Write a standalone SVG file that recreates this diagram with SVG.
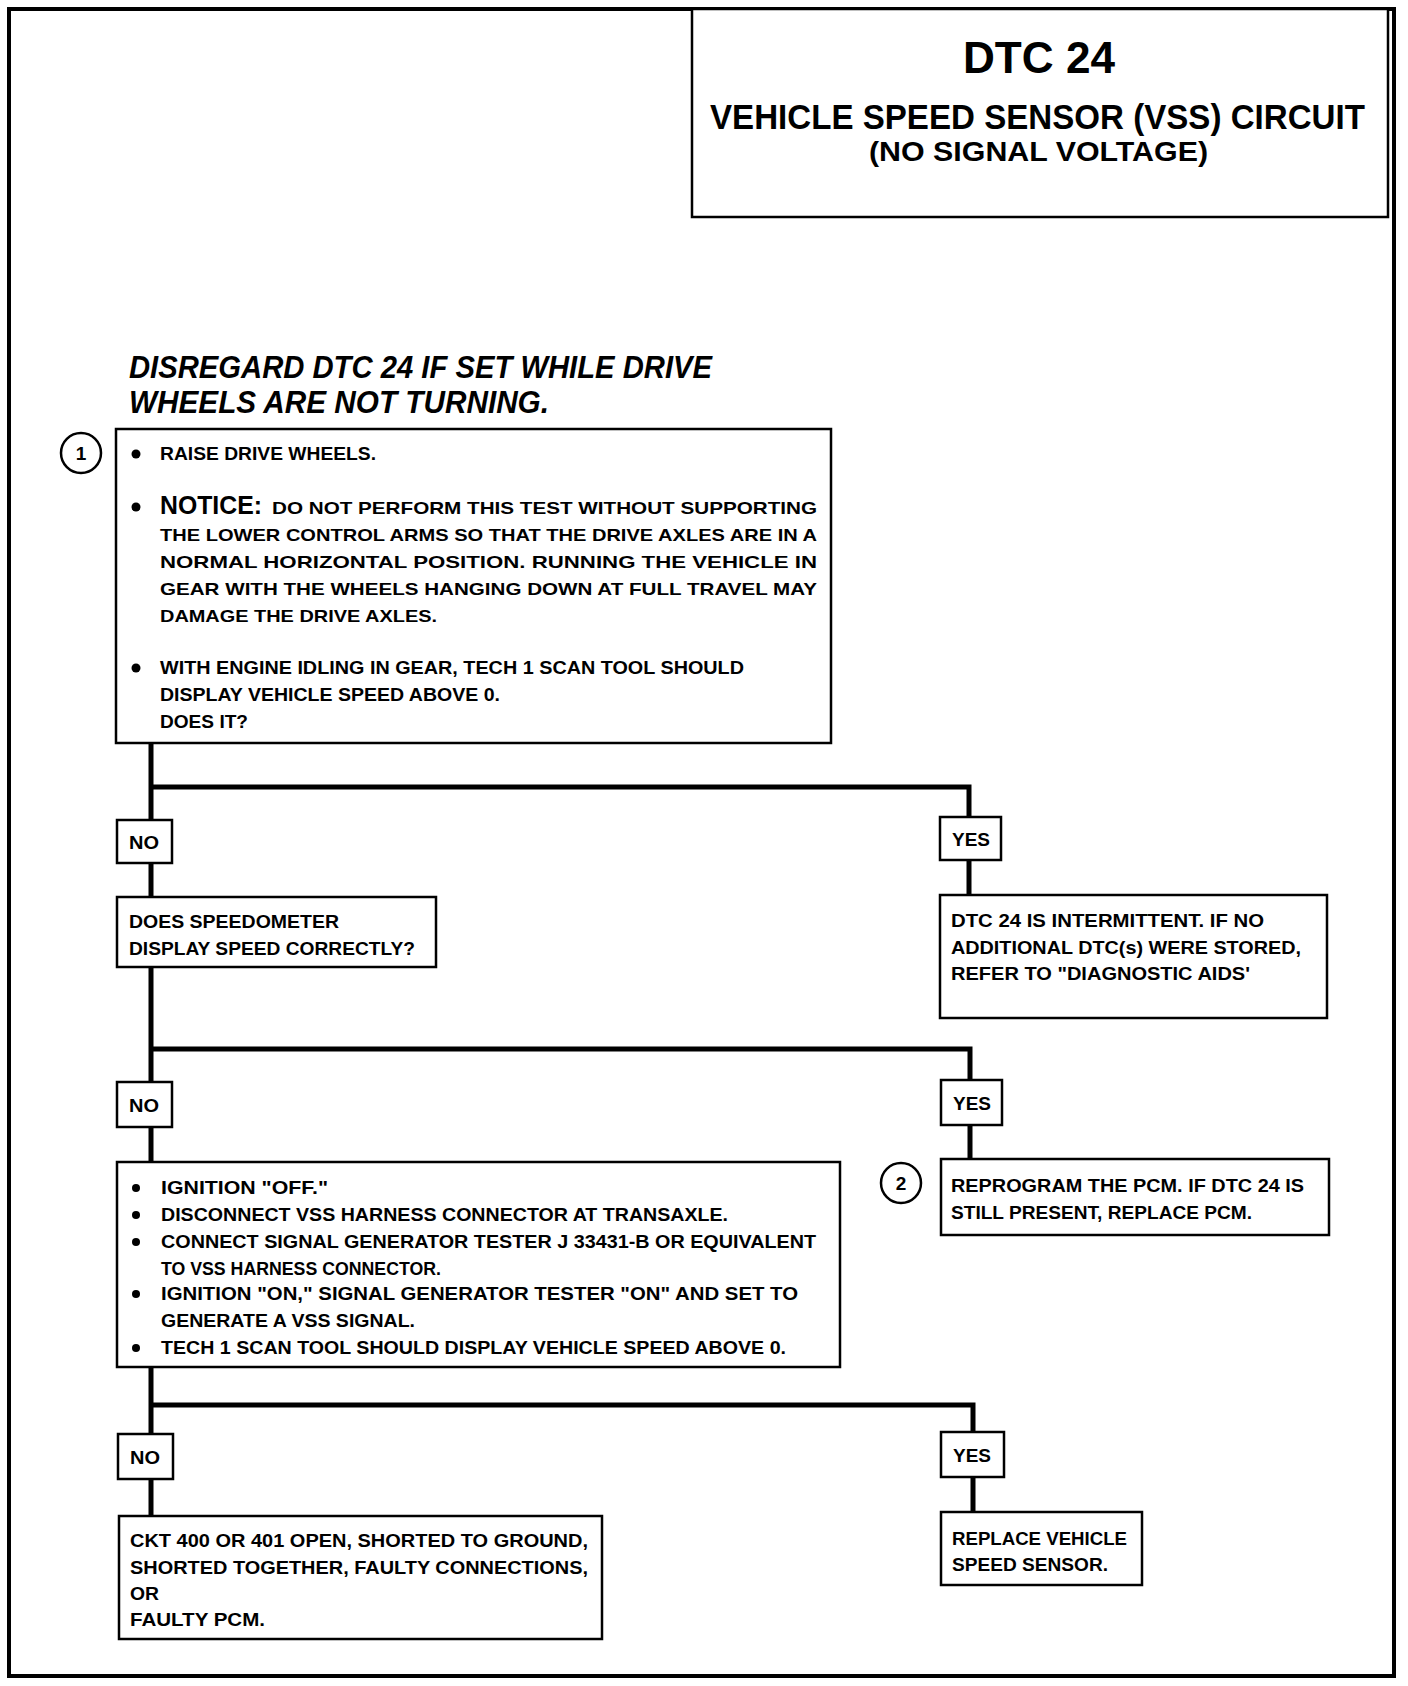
<svg xmlns="http://www.w3.org/2000/svg" width="1408" height="1686" viewBox="0 0 1408 1686">
<style>
  text { font-family: "Liberation Sans", Arial, sans-serif; font-weight: bold; fill: #000; }
  .t { font-size: 18px; }
  .n { font-size: 17px; }
  .lbl { font-size: 18px; }
  .box { fill: #fff; stroke: #000; stroke-width: 2.5; }
  .conn { fill: none; stroke: #000; stroke-width: 5; }
  .circ { fill: #fff; stroke: #000; stroke-width: 2.5; }
</style>
<rect x="0" y="0" width="1408" height="1686" fill="#fff"/>
<rect id="frame" x="9" y="9" width="1385" height="1667" fill="none" stroke="#000" stroke-width="4"/>

<g id="connectors">
  <path class="conn" d="M151 743 V1516"/>
  <path class="conn" d="M151 787 H969 V895"/>
  <path class="conn" d="M151 1049 H970 V1159"/>
  <path class="conn" d="M151 1405 H973 V1512"/>
</g>

<g id="title">
  <rect x="692" y="9" width="696" height="208" fill="#fff" stroke="#000" stroke-width="2.5"/>
  <text x="963" y="73" font-size="45" textLength="152" lengthAdjust="spacingAndGlyphs">DTC 24</text>
  <text transform="translate(710 129) scale(0.92 1)" x="0" y="0" font-size="36">VEHICLE SPEED SENSOR (VSS) CIRCUIT</text>
  <text x="869" y="161" font-size="28" textLength="339" lengthAdjust="spacingAndGlyphs">(NO SIGNAL VOLTAGE)</text>
</g>

<g id="note">
  <text x="129" y="378" font-size="31" font-style="italic" textLength="583" lengthAdjust="spacingAndGlyphs">DISREGARD DTC 24 IF SET WHILE DRIVE</text>
  <text x="129" y="413" font-size="31" font-style="italic" textLength="420" lengthAdjust="spacingAndGlyphs">WHEELS ARE NOT TURNING.</text>
</g>

<g id="step1-marker">
  <circle class="circ" cx="81" cy="453" r="20"/>
  <text x="81" y="460" font-size="19" text-anchor="middle">1</text>
</g>

<g id="box1">
  <rect class="box" x="116" y="429" width="715" height="314"/>
  <circle cx="136" cy="454" r="4.5"/>
  <text class="t" x="160" y="460" textLength="216" lengthAdjust="spacingAndGlyphs">RAISE DRIVE WHEELS.</text>
  <circle cx="136" cy="507" r="4.5"/>
  <text x="160" y="514" font-size="25" textLength="102" lengthAdjust="spacingAndGlyphs">NOTICE:</text>
  <text class="n" x="272" y="514" textLength="545" lengthAdjust="spacingAndGlyphs">DO NOT PERFORM THIS TEST WITHOUT SUPPORTING</text>
  <text class="n" x="160" y="541" textLength="657" lengthAdjust="spacingAndGlyphs">THE LOWER CONTROL ARMS SO THAT THE DRIVE AXLES ARE IN A</text>
  <text class="n" x="160" y="568" textLength="657" lengthAdjust="spacingAndGlyphs">NORMAL HORIZONTAL POSITION.  RUNNING THE VEHICLE IN</text>
  <text class="n" x="160" y="595" textLength="657" lengthAdjust="spacingAndGlyphs">GEAR WITH THE WHEELS HANGING DOWN AT FULL TRAVEL MAY</text>
  <text class="n" x="160" y="622" textLength="277" lengthAdjust="spacingAndGlyphs">DAMAGE THE DRIVE AXLES.</text>
  <circle cx="136" cy="668" r="4.5"/>
  <text class="t" x="160" y="674" textLength="584" lengthAdjust="spacingAndGlyphs">WITH ENGINE IDLING IN GEAR, TECH 1 SCAN TOOL SHOULD</text>
  <text class="t" x="160" y="701" textLength="340" lengthAdjust="spacingAndGlyphs">DISPLAY VEHICLE SPEED ABOVE 0.</text>
  <text class="t" x="160" y="728" textLength="88" lengthAdjust="spacingAndGlyphs">DOES IT?</text>
</g>

<g id="no1">
  <rect class="box" x="117" y="820" width="55" height="43"/>
  <text class="lbl" x="129" y="849" textLength="30" lengthAdjust="spacingAndGlyphs">NO</text>
</g>
<g id="yes1">
  <rect class="box" x="940" y="817" width="61" height="43"/>
  <text class="lbl" x="952" y="846" textLength="38" lengthAdjust="spacingAndGlyphs">YES</text>
</g>

<g id="box2">
  <rect class="box" x="117" y="897" width="319" height="70"/>
  <text class="t" x="129" y="928" textLength="210" lengthAdjust="spacingAndGlyphs">DOES SPEEDOMETER</text>
  <text class="t" x="129" y="955" textLength="286" lengthAdjust="spacingAndGlyphs">DISPLAY SPEED CORRECTLY?</text>
</g>

<g id="intermittent">
  <rect class="box" x="940" y="895" width="387" height="123"/>
  <text class="t" x="951" y="927" textLength="313" lengthAdjust="spacingAndGlyphs">DTC 24 IS INTERMITTENT.  IF NO</text>
  <text class="t" x="951" y="954" textLength="350" lengthAdjust="spacingAndGlyphs">ADDITIONAL DTC(s) WERE STORED,</text>
  <text class="t" x="951" y="980" textLength="299" lengthAdjust="spacingAndGlyphs">REFER TO "DIAGNOSTIC AIDS'</text>
</g>

<g id="no2">
  <rect class="box" x="117" y="1082" width="55" height="45"/>
  <text class="lbl" x="129" y="1112" textLength="30" lengthAdjust="spacingAndGlyphs">NO</text>
</g>
<g id="yes2">
  <rect class="box" x="941" y="1080" width="61" height="45"/>
  <text class="lbl" x="953" y="1110" textLength="38" lengthAdjust="spacingAndGlyphs">YES</text>
</g>

<g id="step2-marker">
  <circle class="circ" cx="901" cy="1183" r="20"/>
  <text x="901" y="1190" font-size="19" text-anchor="middle">2</text>
</g>

<g id="reprogram">
  <rect class="box" x="941" y="1159" width="388" height="76"/>
  <text class="t" x="951" y="1192" textLength="353" lengthAdjust="spacingAndGlyphs">REPROGRAM THE PCM.  IF DTC 24 IS</text>
  <text class="t" x="951" y="1219" textLength="301" lengthAdjust="spacingAndGlyphs">STILL PRESENT, REPLACE PCM.</text>
</g>

<g id="box3">
  <rect class="box" x="117" y="1162" width="723" height="205"/>
  <circle cx="136" cy="1188" r="4"/>
  <text class="t" x="161" y="1194" textLength="167" lengthAdjust="spacingAndGlyphs">IGNITION "OFF."</text>
  <circle cx="136" cy="1215" r="4"/>
  <text class="t" x="161" y="1221" textLength="567" lengthAdjust="spacingAndGlyphs">DISCONNECT VSS HARNESS CONNECTOR AT TRANSAXLE.</text>
  <circle cx="136" cy="1242" r="4"/>
  <text class="t" x="161" y="1248" textLength="655" lengthAdjust="spacingAndGlyphs">CONNECT SIGNAL GENERATOR TESTER J 33431-B OR EQUIVALENT</text>
  <text class="t" x="161" y="1275" textLength="280" lengthAdjust="spacingAndGlyphs">TO VSS HARNESS CONNECTOR.</text>
  <circle cx="136" cy="1294" r="4"/>
  <text class="t" x="161" y="1300" textLength="637" lengthAdjust="spacingAndGlyphs">IGNITION "ON," SIGNAL GENERATOR TESTER "ON"  AND SET TO</text>
  <text class="t" x="161" y="1327" textLength="254" lengthAdjust="spacingAndGlyphs">GENERATE A VSS SIGNAL.</text>
  <circle cx="136" cy="1348" r="4"/>
  <text class="t" x="161" y="1354" textLength="625" lengthAdjust="spacingAndGlyphs">TECH 1 SCAN TOOL SHOULD DISPLAY VEHICLE SPEED ABOVE 0.</text>
</g>

<g id="no3">
  <rect class="box" x="118" y="1434" width="55" height="45"/>
  <text class="lbl" x="130" y="1464" textLength="30" lengthAdjust="spacingAndGlyphs">NO</text>
</g>
<g id="yes3">
  <rect class="box" x="941" y="1432" width="63" height="45"/>
  <text class="lbl" x="953" y="1462" textLength="38" lengthAdjust="spacingAndGlyphs">YES</text>
</g>

<g id="ckt">
  <rect class="box" x="119" y="1516" width="483" height="123"/>
  <text class="t" x="130" y="1547" textLength="458" lengthAdjust="spacingAndGlyphs">CKT 400 OR 401 OPEN, SHORTED TO GROUND,</text>
  <text class="t" x="130" y="1574" textLength="458" lengthAdjust="spacingAndGlyphs">SHORTED TOGETHER, FAULTY CONNECTIONS,</text>
  <text class="t" x="130" y="1600" textLength="29" lengthAdjust="spacingAndGlyphs">OR</text>
  <text class="t" x="130" y="1626" textLength="135" lengthAdjust="spacingAndGlyphs">FAULTY PCM.</text>
</g>

<g id="replace-vss">
  <rect class="box" x="941" y="1512" width="201" height="73"/>
  <text class="t" x="952" y="1545" textLength="175" lengthAdjust="spacingAndGlyphs">REPLACE VEHICLE</text>
  <text class="t" x="952" y="1571" textLength="156" lengthAdjust="spacingAndGlyphs">SPEED SENSOR.</text>
</g>
</svg>
